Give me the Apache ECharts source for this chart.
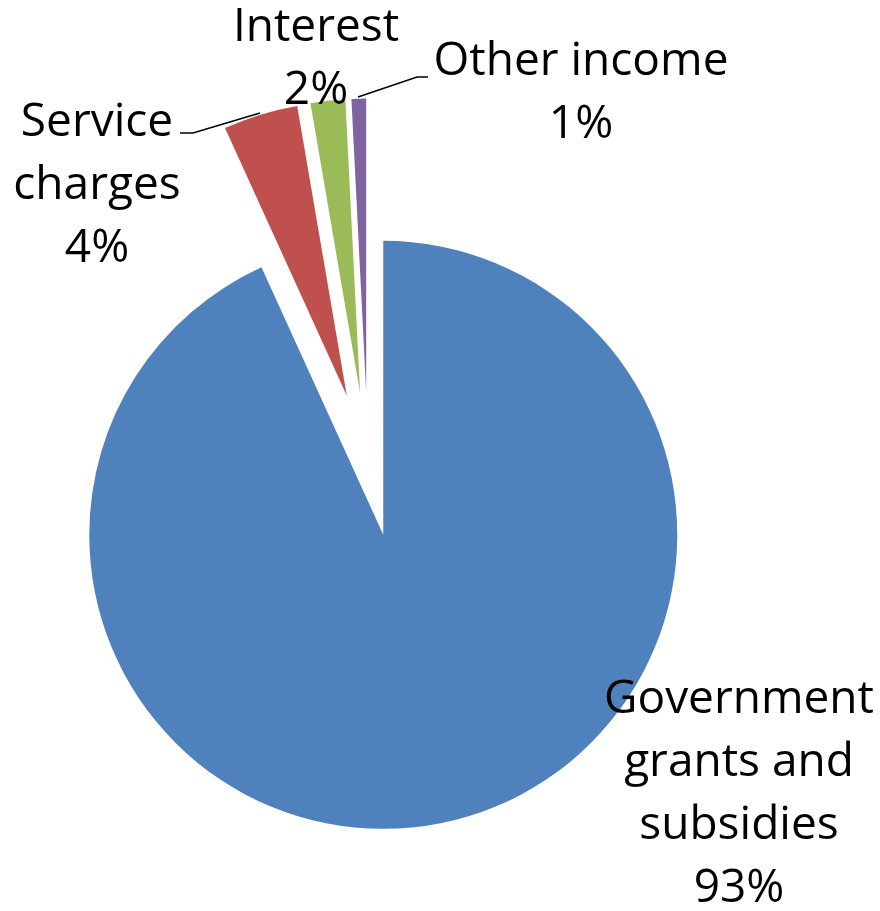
<!DOCTYPE html>
<html>
<head>
<meta charset="utf-8">
<script src="https://cdn.jsdelivr.net/npm/echarts@6/dist/echarts.min.js"></script>
<style>
html,body{margin:0;padding:0;background:#fff;}
#chart{width:880px;height:911px;}
</style>
</head>
<body>
<div id="chart"></div>
<script>
// ---- data ----
const categories = ['Government\ngrants and\nsubsidies', 'Service\ncharges', 'Interest', 'Other income'];
const values = [93.2, 4.1, 1.9, 0.8];
const colors = ['#4F81BD', '#C0504D', '#9BBB59', '#8064A2'];

// ---- layout (styling, not data) ----
const baseCenter = [368, 464.5];
const explode = 72;
const radius = 294;
const labelCenters = [[739, 794], [97, 186], [316, 59], [581, 93]];
const leaderLines = [null, [[260, 113], [193, 133], [180, 133]], null, [[358, 97], [417, 77], [428, 77]]];

const total = values.reduce((a, b) => a + b, 0);
let cum = 0;
const series = values.map((v, i) => {
  const midFrac = (cum + v / 2) / total;
  cum += v;
  const th = midFrac * 2 * Math.PI;
  const cx = baseCenter[0] + explode * Math.sin(th);
  const cy = baseCenter[1] - explode * Math.cos(th);
  return {
    type: 'pie',
    center: [cx, cy],
    radius: radius,
    startAngle: 90,
    clockwise: true,
    avoidLabelOverlap: false,
    percentPrecision: 0,
    silent: true,
    animation: false,
    emphasis: { disabled: true },
    data: categories.map((name, j) => ({
      name: name,
      value: values[j],
      itemStyle: { color: j === i ? colors[j] : 'rgba(0,0,0,0)' },
      label: { show: j === i },
      labelLine: { show: j === i && leaderLines[i] !== null }
    })),
    label: {
      position: 'outside',
      formatter: '{b}\n{d}%',
      color: '#000',
      fontFamily: 'Open Sans',
      fontSize: 46,
      lineHeight: 63,
      align: 'center'
    },
    labelLine: {
      lineStyle: { color: '#000', width: 1.6 }
    },
    labelLayout: function (p) {
      const r = {
        x: labelCenters[i][0],
        y: labelCenters[i][1],
        align: 'center',
        verticalAlign: 'middle'
      };
      if (leaderLines[i]) r.labelLinePoints = leaderLines[i];
      return r;
    }
  };
});

const chart = echarts.init(document.getElementById('chart'), null, { renderer: 'canvas' });
chart.setOption({
  backgroundColor: '#fff',
  animation: false,
  series: series
});
</script>
</body>
</html>
